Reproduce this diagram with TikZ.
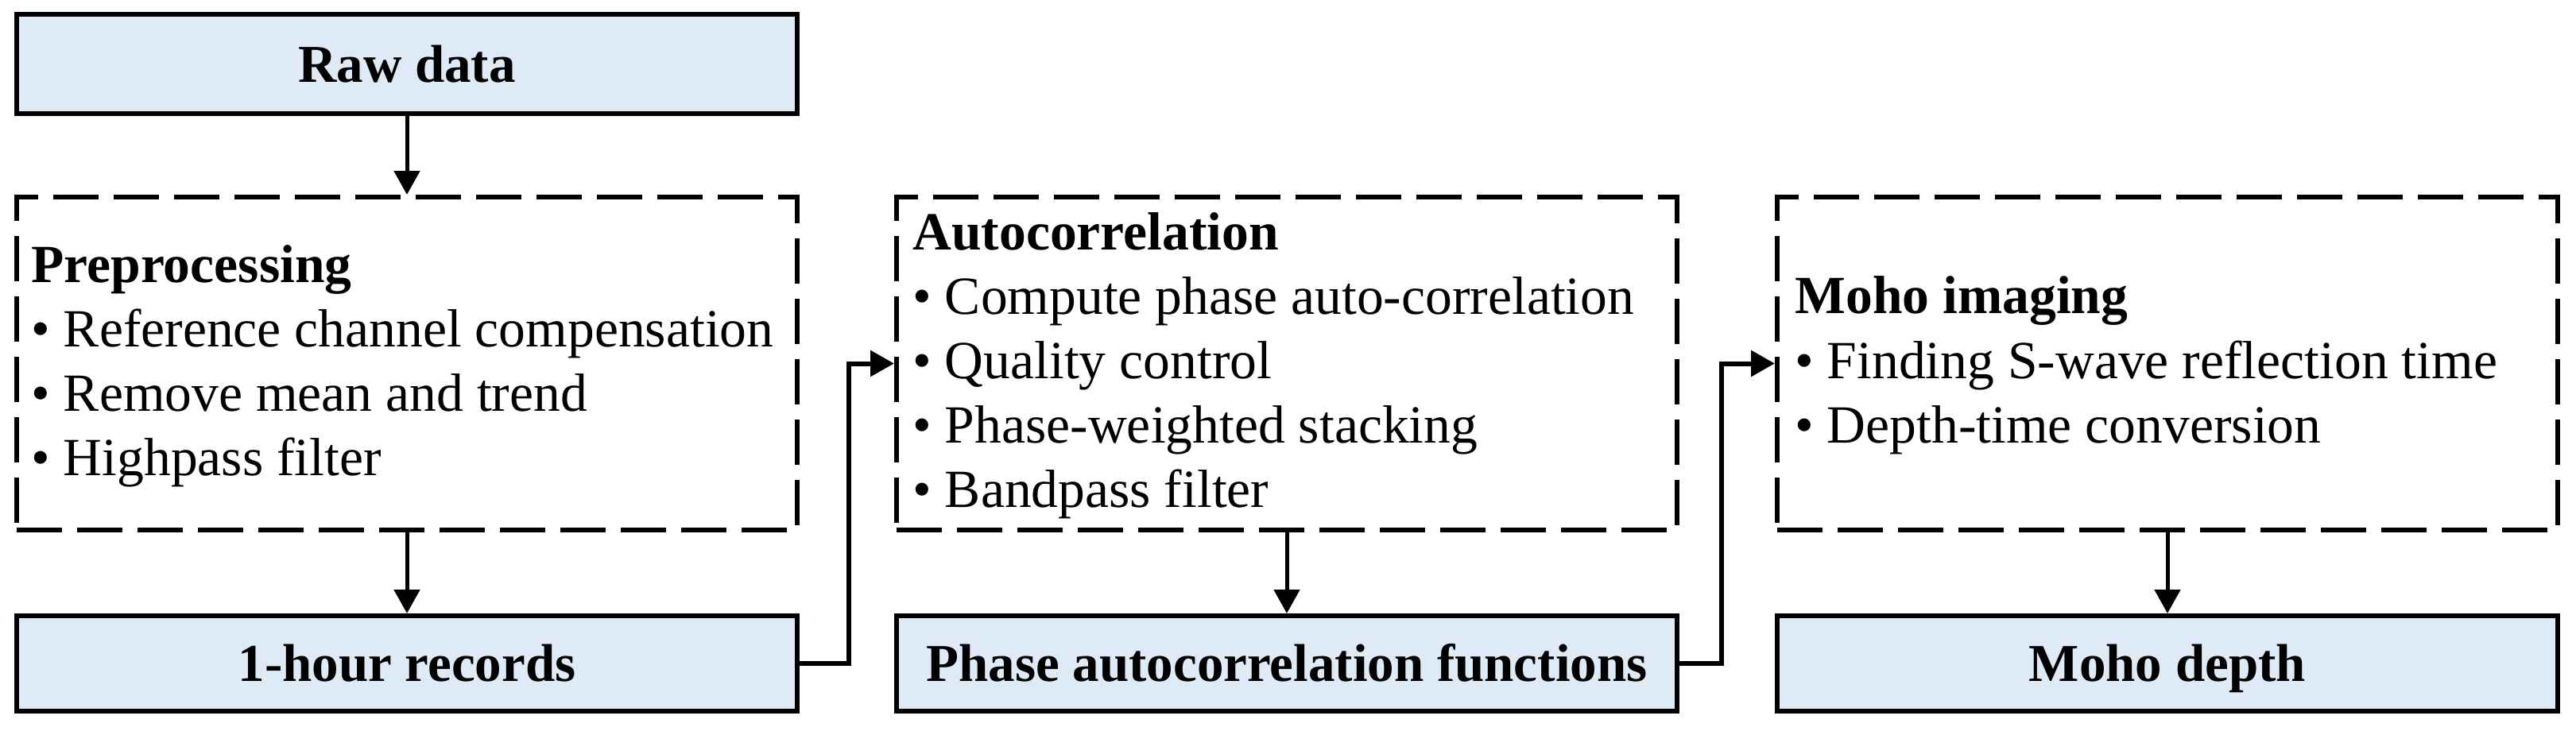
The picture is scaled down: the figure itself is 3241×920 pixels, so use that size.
\documentclass[tikz,border=0pt]{standalone}
\usepackage{fontspec}
\setmainfont{Liberation Serif}
\usetikzlibrary{arrows.meta}
\definecolor{boxblue}{RGB}{222,234,246}
\begin{document}
\begin{tikzpicture}[x=0.5pt,y=-0.5pt,
  solidbox/.style={draw=black, line width=3pt, fill=boxblue, minimum width=491pt,
    minimum height=60pt, inner sep=0pt, text height=22.8pt, text depth=0pt,
    font=\fontsize{33.5pt}{40.5pt}\selectfont\bfseries},
  dashbox/.style={draw=black, line width=3pt, dash pattern=on 28.5pt off 9.5pt,
    minimum width=491pt, minimum height=209.5pt, inner sep=0pt},
  linetext/.style={anchor=base west, inner sep=0pt, font=\fontsize{33.8pt}{40.5pt}\selectfont},
  conn/.style={line width=2.5pt, -{Triangle[length=15pt,width=16pt]}},
  elbow/.style={line width=3pt, -{Triangle[length=15pt,width=16pt]}},
]
\useasboundingbox (0,0) rectangle (3241,920);

% column 1
\node[solidbox, minimum height=62.5pt] (raw) at (512,80.5) {Raw data};
\node[dashbox] (pre) at (512,457.5) {};
\node[solidbox] (hour) at (512,835) {1-hour records};
\node[linetext] (pre0) at (39,355) {\textbf{Preprocessing}};
\node[linetext] (pre1) at (39,436) {\textbullet\ Reference channel compensation};
\node[linetext] (pre2) at (39,517) {\textbullet\ Remove mean and trend};
\node[linetext] (pre3) at (39,598) {\textbullet\ Highpass filter};

% column 2
\node[dashbox] (auto) at (1619,457.5) {};
\node[solidbox] (paf) at (1619,835) {Phase autocorrelation functions};
\node[linetext] (auto0) at (1148,314) {\textbf{Autocorrelation}};
\node[linetext] (auto1) at (1148,395) {\textbullet\ Compute phase auto-correlation};
\node[linetext] (auto2) at (1148,476) {\textbullet\ Quality control};
\node[linetext] (auto3) at (1148,557) {\textbullet\ Phase-weighted stacking};
\node[linetext] (auto4) at (1148,638) {\textbullet\ Bandpass filter};

% column 3
\node[dashbox] (moho) at (2727,457.5) {};
\node[solidbox] (depth) at (2727,835) {Moho depth};
\node[linetext] (moho0) at (2258,394) {\textbf{Moho imaging}};
\node[linetext] (moho1) at (2258,476) {\textbullet\ Finding S-wave reflection time};
\node[linetext] (moho2) at (2258,557) {\textbullet\ Depth-time conversion};

% connectors
\draw[conn] (raw.south) -- (pre.north);
\draw[conn] (pre.south) -- (hour.north);
\draw[conn] (auto.south) -- (paf.north);
\draw[conn] (moho.south) -- (depth.north);
\draw[elbow] (hour.east) -- ++(62,0) |- (auto.west);
\draw[elbow] (paf.east) -- ++(53,0) |- (moho.west);
\end{tikzpicture}
\end{document}
